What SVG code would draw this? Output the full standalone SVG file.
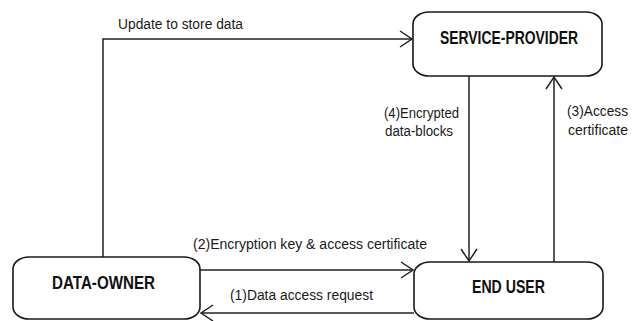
<svg xmlns="http://www.w3.org/2000/svg" width="641" height="321" viewBox="0 0 641 321">
  <style>
    .box { fill: #ffffff; stroke: #1a1a1a; stroke-width: 1.6; }
    .name { font-family: "Liberation Sans", Arial, sans-serif; font-weight: bold; font-size: 19px; fill: #111; }
    .lbl { font-family: "Liberation Sans", Arial, sans-serif; font-size: 14px; fill: #1a1a1a; }
    .conn { fill: none; stroke: #222; stroke-width: 1.5; }
  </style>
  <defs>
    <marker id="arr" markerUnits="userSpaceOnUse" markerWidth="16" markerHeight="20" viewBox="-14 -10 16 20" refX="0" refY="0" orient="auto">
      <path d="M-12,-8 L0,0 L-12,8" fill="none" stroke="#222" stroke-width="1.5"/>
    </marker>
  </defs>
  <rect width="641" height="321" fill="#ffffff"/>

  <g id="connectors">
    <path class="conn" d="M103,257 V39 H412" marker-end="url(#arr)"/>
    <text class="lbl" x="118" y="29" font-size="13" textLength="125" lengthAdjust="spacingAndGlyphs">Update to store data</text>
    <path class="conn" d="M469,76 V261" marker-end="url(#arr)"/>
    <text class="lbl" x="384" y="118" textLength="75" lengthAdjust="spacingAndGlyphs">(4)Encrypted</text>
    <text class="lbl" x="385" y="136" textLength="68" lengthAdjust="spacingAndGlyphs">data-blocks</text>
    <path class="conn" d="M554,262 V77" marker-end="url(#arr)"/>
    <text class="lbl" x="567" y="116" textLength="61" lengthAdjust="spacingAndGlyphs">(3)Access</text>
    <text class="lbl" x="568" y="135" textLength="60" lengthAdjust="spacingAndGlyphs">certificate</text>
    <path class="conn" d="M200,270 H413" marker-end="url(#arr)"/>
    <text class="lbl" x="193" y="249" font-size="15" textLength="234" lengthAdjust="spacingAndGlyphs">(2)Encryption key &amp; access certificate</text>
    <path class="conn" d="M414,313 H201" marker-end="url(#arr)"/>
    <text class="lbl" x="230" y="300" font-size="15" textLength="143" lengthAdjust="spacingAndGlyphs">(1)Data access request</text>
  </g>

  <g id="service-provider">
    <rect class="box" x="413" y="12" width="189" height="64" rx="16" ry="12"/>
    <text class="name" x="440" y="44" textLength="138" lengthAdjust="spacingAndGlyphs">SERVICE-PROVIDER</text>
  </g>

  <g id="data-owner">
    <rect class="box" x="13" y="257" width="187" height="62" rx="16" ry="12"/>
    <text class="name" x="52" y="289" textLength="103" lengthAdjust="spacingAndGlyphs">DATA-OWNER</text>
  </g>

  <g id="end-user">
    <rect class="box" x="414" y="262" width="189" height="57" rx="16" ry="12"/>
    <text class="name" x="472" y="293" textLength="73" lengthAdjust="spacingAndGlyphs">END USER</text>
  </g>
</svg>
